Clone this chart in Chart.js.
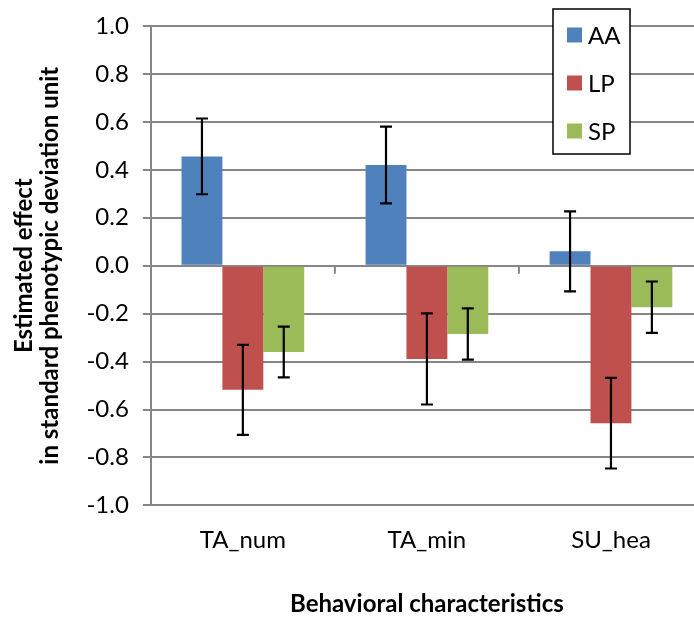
<!DOCTYPE html>
<html>
<head>
<meta charset="utf-8">
<script src="https://cdn.jsdelivr.net/npm/chart.js@4.4.1/dist/chart.umd.min.js"></script>
<style>
  html, body { margin: 0; padding: 0; background: #fff; overflow: hidden; }
  #wrap { position: absolute; left: 0; top: 0; width: 720px; height: 623px; }
</style>
</head>
<body>
<div id="wrap"><canvas id="c"></canvas></div>
<script>
const categories = ['TA_num', 'TA_min', 'SU_hea'];
const seriesNames = ['AA', 'LP', 'SP'];
const aaValues = [0.456, 0.420, 0.060];
const lpValues = [-0.518, -0.389, -0.657];
const spValues = [-0.360, -0.285, -0.173];
const aaErrors = [0.158, 0.160, 0.167];
const lpErrors = [0.188, 0.190, 0.189];
const spErrors = [0.106, 0.107, 0.107];
const seriesColors = ['#4F81BD', '#C0504D', '#9BBB59'];

const FONT = 'Lato, "Open Sans", sans-serif';
const GRID = '#868686';

const seriesValues = [aaValues, lpValues, spValues];
const seriesErrors = [aaErrors, lpErrors, spErrors];

const errorBarPlugin = {
  id: 'errorBars',
  afterDatasetsDraw(chart) {
    const ctx = chart.ctx;
    const y = chart.scales.y;
    ctx.save();
    ctx.strokeStyle = '#000';
    ctx.lineWidth = 2.2;
    chart.data.datasets.forEach((ds, di) => {
      const meta = chart.getDatasetMeta(di);
      meta.data.forEach((bar, i) => {
        const v = ds.data[i];
        const e = ds.errors[i];
        const x = bar.x;
        const yt = y.getPixelForValue(v + e);
        const yb = y.getPixelForValue(v - e);
        ctx.beginPath();
        ctx.moveTo(x, yt); ctx.lineTo(x, yb);
        ctx.moveTo(x - 6, yt); ctx.lineTo(x + 6, yt);
        ctx.moveTo(x - 6, yb); ctx.lineTo(x + 6, yb);
        ctx.stroke();
      });
    });
    ctx.restore();
  }
};

const categoryTickPlugin = {
  id: 'catTicks',
  beforeDatasetsDraw(chart) {
    const ctx = chart.ctx;
    const xs = chart.scales.x;
    const y0 = chart.scales.y.getPixelForValue(0);
    ctx.save();
    ctx.strokeStyle = GRID;
    ctx.lineWidth = 2;
    for (let i = 0; i < categories.length - 1; i++) {
      const bx = (xs.getPixelForValue(i) + xs.getPixelForValue(i + 1)) / 2;
      ctx.beginPath();
      ctx.moveTo(bx, y0);
      ctx.lineTo(bx, y0 + 8);
      ctx.stroke();
    }
    ctx.restore();
  }
};

const boxLegendPlugin = {
  id: 'boxLegend',
  afterDraw(chart) {
    const ctx = chart.ctx;
    const bx = 553, by = 9, bw = 77, bh = 145;
    ctx.save();
    ctx.fillStyle = '#fff';
    ctx.fillRect(bx, by, bw, bh);
    ctx.strokeStyle = '#000';
    ctx.lineWidth = 1.5;
    ctx.strokeRect(bx, by, bw, bh);
    ctx.font = '24px ' + FONT;
    ctx.textBaseline = 'middle';
    chart.data.datasets.forEach((ds, i) => {
      const cy = by + 26 + i * 48;
      ctx.fillStyle = ds.backgroundColor;
      ctx.fillRect(bx + 14, cy - 7.5, 15, 15);
      ctx.fillStyle = '#000';
      ctx.fillText(ds.label, bx + 35, cy + 1);
    });
    ctx.restore();
  }
};

new Chart(document.getElementById('c'), {
  type: 'bar',
  data: {
    labels: categories,
    datasets: seriesNames.map((name, i) => ({
      label: name,
      data: seriesValues[i],
      errors: seriesErrors[i],
      backgroundColor: seriesColors[i],
      borderWidth: 0,
      categoryPercentage: 3 / 4.5,
      barPercentage: 1.0
    }))
  },
  plugins: [categoryTickPlugin, errorBarPlugin, boxLegendPlugin],
  options: {
    responsive: true,
    maintainAspectRatio: false,
    animation: false,
    layout: { padding: { top: 0, right: 17, left: 12, bottom: 4 } },
    plugins: {
      legend: { display: false },
      tooltip: { enabled: false }
    },
    scales: {
      x: {
        grid: { display: false, drawTicks: false },
        border: { display: false },
        ticks: { color: '#000', font: { family: FONT, size: 24 }, padding: 20 },
        title: {
          display: true,
          text: 'Behavioral characteristics',
          color: '#000',
          font: { family: FONT, size: 24, weight: 'bold' },
          padding: { top: 16, bottom: 0 }
        }
      },
      y: {
        min: -1,
        max: 1,
        ticks: {
          stepSize: 0.2,
          color: '#000',
          font: { family: FONT, size: 24, lineHeight: 1.0 },
          padding: 14,
          callback: (v) => Number(v).toFixed(1)
        },
        grid: { color: GRID, lineWidth: 2, tickLength: 8 },
        border: { display: true, color: GRID, width: 2 },
        title: {
          display: true,
          text: ['Estimated effect', 'in standard phenotypic deviation unit'],
          color: '#000',
          font: { family: FONT, size: 24, weight: 'bold', lineHeight: 1.05 },
          padding: { top: 0, bottom: 10 }
        }
      }
    }
  }
});
</script>
</body>
</html>
